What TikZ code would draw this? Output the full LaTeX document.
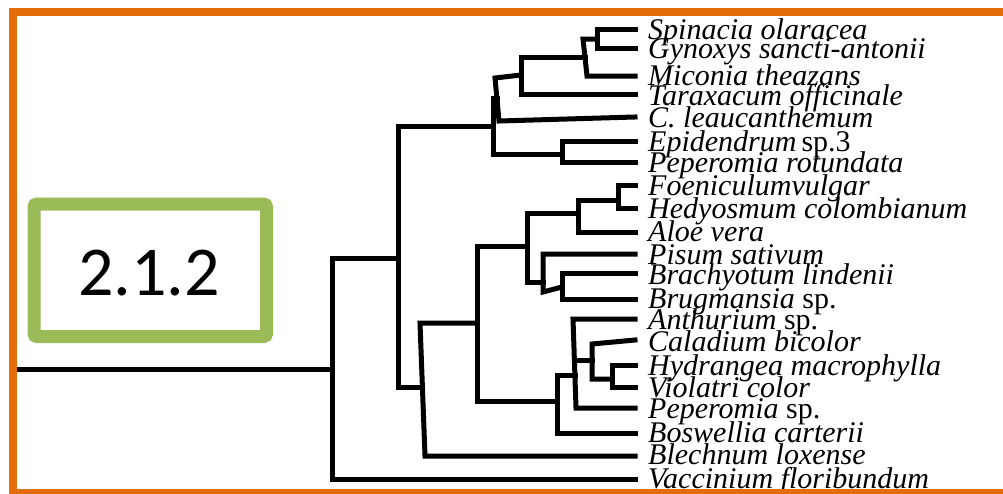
\documentclass[tikz,border=0pt]{standalone}
\usepackage{fontspec}
\setmainfont{Liberation Serif}
\newfontfamily\labelfont{Carlito}
\definecolor{frameorange}{HTML}{E46C0A}
\definecolor{boxgreen}{HTML}{9BBB59}
\tikzset{
  branch/.style={line width=5pt, line cap=rect, line join=miter, black},
  taxon/.style={anchor=base west, inner sep=0pt, font=\itshape\fontsize{30}{30}\selectfont},
}
\begin{document}
\begin{tikzpicture}[x=1pt, y=-1pt]
\useasboundingbox (0,0) rectangle (1003,493);
\clip (0,0) rectangle (1003,493);
\fill[white] (0,0) rectangle (1003,493);

% leaf tips
\foreach \n/\y in {Spin/29, Gyno/48, Mico/76, Tara/94, Leuc/117, Epid/141, Prot/162,
                   Foen/185, Hedy/208, Aloe/232, Pisu/254, Brac/273, Brug/299, Anth/319,
                   Cala/340, Hydr/365, Viol/387, Pesp/408, Bosw/433, Blec/456, Vacc/479}
  \coordinate (t\n) at (635,\y);

% internal nodes: top, bottom and attachment points
\coordinate (sgT) at (597,29);  \coordinate (sgB) at (597,48);  \coordinate (sgM) at (597,39);
\coordinate (sgmT) at (583,39); \coordinate (sgmB) at (587,76); \coordinate (sgmM) at (585,57);
\coordinate (sgmtT) at (521,57); \coordinate (sgmtB) at (521,94); \coordinate (sgmtM) at (521,75);
\coordinate (xT) at (495,78);   \coordinate (xB) at (499,121); \coordinate (xM) at (497,98);
\coordinate (yT) at (493,98);   \coordinate (yB) at (493,154); \coordinate (yM) at (493,126);
\coordinate (epT) at (562,141); \coordinate (epB) at (562,162); \coordinate (epM) at (562,154);
\coordinate (mainT) at (398,126); \coordinate (mainB) at (398,387); \coordinate (mainM) at (398,258);
\coordinate (rootT) at (332,258); \coordinate (rootB) at (332,479); \coordinate (rootM) at (332,369);
\coordinate (stem) at (12,369);
\coordinate (bT) at (420,323);  \coordinate (bB) at (425,456); \coordinate (bM) at (421,387);
\coordinate (cT) at (477,246);  \coordinate (cB) at (477,401); \coordinate (cM) at (477,323);
\coordinate (dT) at (527,213);  \coordinate (dB) at (527,282); \coordinate (dM) at (527,246);
\coordinate (eT) at (578,200);  \coordinate (eB) at (578,232); \coordinate (eM) at (578,213);
\coordinate (fT) at (618,185);  \coordinate (fB) at (618,208); \coordinate (fM) at (618,200);
\coordinate (gT) at (543,254);  \coordinate (gB) at (543,292); \coordinate (gM) at (543,282);
\coordinate (hT) at (562,273);  \coordinate (hB) at (562,299); \coordinate (hM) at (562,287);
\coordinate (iT) at (557,375);  \coordinate (iB) at (557,433); \coordinate (iM) at (557,401);
\coordinate (jT) at (573,319);  \coordinate (jB) at (576,408); \coordinate (jM) at (575,375);
\coordinate (jK) at (574.5,360);
\coordinate (kT) at (592,344);  \coordinate (kB) at (592,379); \coordinate (kM) at (592,360);
\coordinate (lT) at (612,365);  \coordinate (lB) at (612,387); \coordinate (lM) at (612,379);

% branches
\draw[branch] (tSpin) -- (sgT) -- (sgB) -- (tGyno);
\draw[branch] (sgM) -- (sgmT) -- (sgmB) -- (tMico);
\draw[branch] (sgmM) -- (sgmtT) -- (sgmtB) -- (tTara);
\draw[branch] (sgmtM) -- (xT) -- (xB) -- (tLeuc);
\draw[branch] (xM) -- (yT) -- (yB) -- (epM);
\draw[branch] (tEpid) -- (epT) -- (epB) -- (tProt);
\draw[branch] (yM) -- (mainT) -- (mainB) -- (bM);
\draw[branch] (mainM) -- (rootT) -- (rootB) -- (tVacc);
\draw[branch] (stem) -- (rootM);
\draw[branch] (cM) -- (bT) -- (bB) -- (tBlec);
\draw[branch] (dM) -- (cT) -- (cB) -- (iM);
\draw[branch] (eM) -- (dT) -- (dB) -- (gM);
\draw[branch] (fM) -- (eT) -- (eB) -- (tAloe);
\draw[branch] (tFoen) -- (fT) -- (fB) -- (tHedy);
\draw[branch] (tPisu) -- (gT) -- (gB) -- (hM);
\draw[branch] (tBrac) -- (hT) -- (hB) -- (tBrug);
\draw[branch] (jM) -- (iT) -- (iB) -- (tBosw);
\draw[branch] (tAnth) -- (jT) -- (jB) -- (tPesp);
\draw[branch] (jK) -- (kM);
\draw[branch] (tCala) -- (kT) -- (kB) -- (lM);
\draw[branch] (tHydr) -- (lT) -- (lB) -- (tViol);

% taxon labels
\node[taxon] (lSpin) at (648,39)  {Spinacia olaracea};
\node[taxon] (lGyno) at (648,58)  {Gynoxys sancti-antonii};
\node[taxon] (lMico) at (648,85)  {Miconia theazans};
\node[taxon] (lTara) at (648,105) {Taraxacum officinale};
\node[taxon] (lLeuc) at (648,127) {C. leaucanthemum};
\node[taxon] (lEpid) at (648,151) {Epidendrum\,{\upshape sp.3}};
\node[taxon] (lProt) at (648,172) {Peperomia rotundata};
\node[taxon] (lFoen) at (648,195) {Foeniculumvulgar};
\node[taxon] (lHedy) at (648,218) {Hedyosmum colombianum};
\node[taxon] (lAloe) at (648,241) {Aloe vera};
\node[taxon] (lPisu) at (648,264) {Pisum sativum};
\node[taxon] (lBrac) at (648,284) {Brachyotum lindenii};
\node[taxon] (lBrug) at (648,308) {Brugmansia {\upshape sp.}};
\node[taxon] (lAnth) at (648,329) {Anthurium {\upshape sp.}};
\node[taxon] (lCala) at (648,351) {Caladium bicolor};
\node[taxon] (lHydr) at (648,375) {Hydrangea macrophylla};
\node[taxon] (lViol) at (648,397) {Violatri color};
\node[taxon] (lPesp) at (648,418) {Peperomia {\upshape sp.}};
\node[taxon] (lBosw) at (648,442) {Boswellia carterii};
\node[taxon] (lBlec) at (648,464) {Blechnum loxense};
\node[taxon] (lVacc) at (648,488) {Vaccinium floribundum};

% section badge
\draw[boxgreen, line width=13pt, rounded corners=3pt, fill=white] (34,204) rectangle (266.5,336.5);
\node[anchor=base, inner sep=0pt, font=\labelfont\fontsize{70}{70}\selectfont] (badge) at (149,295) {2.1.2};

% outer frame
\draw[frameorange, line width=8pt] (13,11.5) rectangle (1008,493);
\end{tikzpicture}
\end{document}
